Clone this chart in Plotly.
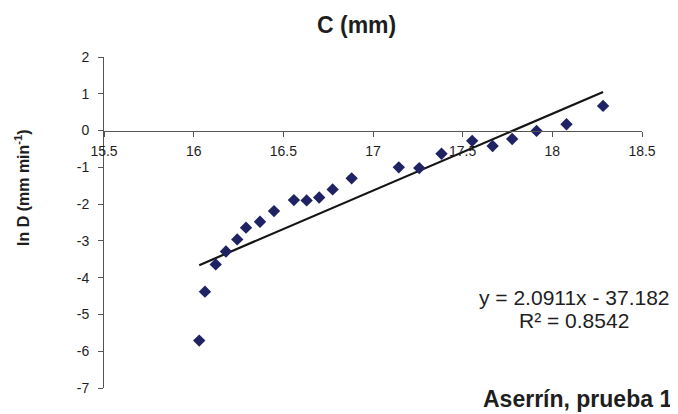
"""Scatter of ln D vs C with linear trend line (Aserrín, prueba 1)."""

import plotly.graph_objects as go

# C (mm) and ln D (mm min^-1)
c_mm = [16.031, 16.063, 16.123, 16.180, 16.243, 16.292, 16.370, 16.448,
        16.559, 16.630, 16.700, 16.775, 16.881, 17.144, 17.258, 17.382,
        17.553, 17.667, 17.776, 17.912, 18.079, 18.283]
ln_d = [-5.71, -4.38, -3.64, -3.29, -2.96, -2.64, -2.48, -2.19,
        -1.89, -1.90, -1.82, -1.60, -1.30, -1.00, -1.02, -0.63,
        -0.28, -0.42, -0.23, -0.01, 0.17, 0.67]

# trend line from the printed regression
slope = 2.0911
intercept = -37.182
r2 = 0.8542

x_ticks = [15.5, 16, 16.5, 17, 17.5, 18, 18.5]
x_tick_text = ["15.5", "16", "16.5", "17", "17.5", "18", "18.5"]
y_ticks = [2, 1, 0, -1, -2, -3, -4, -5, -6, -7]
y_tick_text = [str(v) for v in y_ticks]  # plain hyphen, as in the original

FONT = "Liberation Sans, Arial, sans-serif"
INK = "#1e1e1e"
# the page body has an 8px margin, so the figure is 8px smaller than the window
PAD = 8
W, H = 678 - PAD, 414 - PAD
L, R, T, B = 104 - PAD, 36, 57 - PAD, 26

fit_x = [min(c_mm), max(c_mm)]
fit_y = [slope * x + intercept for x in fit_x]

fig = go.Figure()
fig.add_scatter(
    x=fit_x, y=fit_y, mode="lines",
    line=dict(color="#151515", width=2.2), hoverinfo="skip",
)
fig.add_scatter(
    x=c_mm, y=ln_d, mode="markers",
    marker=dict(symbol="diamond", size=9.5, color="#1f2263",
                line=dict(width=0)),
)

fig.update_layout(
    width=W, height=H,
    margin=dict(l=L, r=R, t=T, b=B, autoexpand=False),
    paper_bgcolor="white", plot_bgcolor="white",
    showlegend=False,
    font=dict(family=FONT, color=INK, size=14),
    xaxis=dict(
        range=[15.5, 18.5], tickvals=x_ticks, ticktext=x_tick_text,
        anchor="free", position=7 / 9, automargin=False,
        showline=True, linecolor="#555555", linewidth=1,
        ticks="outside", ticklen=5, tickcolor="#555555",
        ticklabelstandoff=3,
        showgrid=False, zeroline=False,
        tickfont=dict(size=14, color=INK),
    ),
    yaxis=dict(
        range=[-7, 2], tickvals=y_ticks, ticktext=y_tick_text,
        automargin=False,
        showline=True, linecolor="#555555", linewidth=1,
        ticks="outside", ticklen=5, tickcolor="#555555",
        ticklabelstandoff=6,
        showgrid=False, zeroline=False,
        tickfont=dict(size=14, color=INK),
    ),
)


def px_to_paper(x, y):
    # x, y in window pixels
    x, y = x - PAD, y - PAD
    return (x - L) / (W - L - R), 1 - (y - T) / (H - T - B)


annotations = [
    dict(text="<b>C (mm)</b>", x=356, y=25, size=23, ya="middle"),
    dict(text="<b>ln D (mm min<sup>-1</sup>)</b>", x=22, y=188, size=16,
         ya="middle", angle=-90),
    dict(text=f"y = {slope}x - {abs(intercept)}", x=574, y=297, size=21,
         ya="middle"),
    dict(text=f"R² = {r2}", x=574, y=320, size=21, ya="middle"),
    dict(text="<b>Aserrín, prueba 1</b>", x=577, y=414, size=23,
         ya="bottom"),
]
for a in annotations:
    px, py = px_to_paper(a["x"], a["y"])
    fig.add_annotation(
        text=a["text"], xref="paper", yref="paper", x=px, y=py,
        xanchor="center", yanchor=a["ya"], showarrow=False,
        textangle=a.get("angle", 0),
        font=dict(family=FONT, size=a["size"], color=INK),
    )

fig.write_html("out.html")
